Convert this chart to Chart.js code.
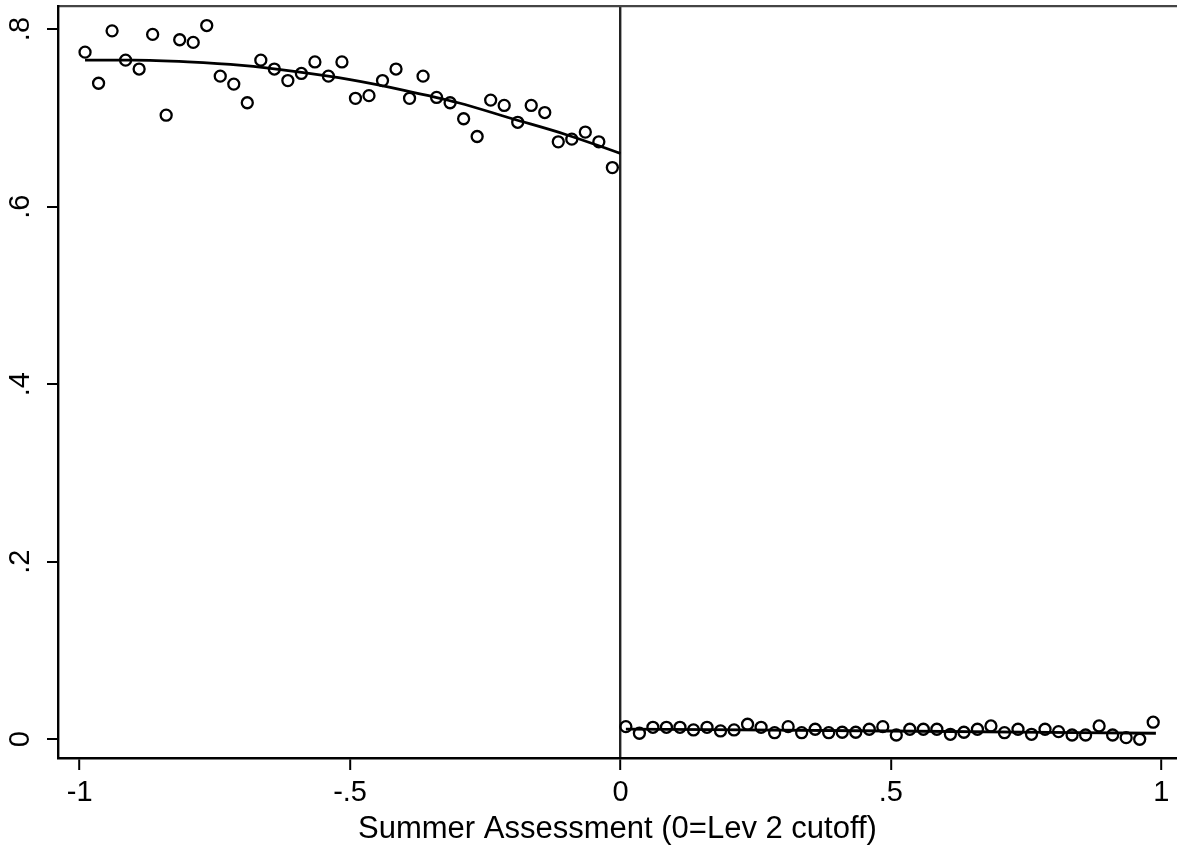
<!DOCTYPE html>
<html><head><meta charset="utf-8">
<script src="https://cdn.jsdelivr.net/npm/chart.js@4.4.0/dist/chart.umd.min.js"></script>
<style>html,body{margin:0;padding:0;background:#fff;overflow:hidden}#wrap{width:1177px;height:848px}</style>
</head><body><div id="wrap"><canvas id="c" width="1177" height="848"></canvas></div>
<script>
// Binned observations, left of cutoff
const leftX = [-0.99,-0.965,-0.94,-0.915,-0.89,-0.865,-0.84,-0.815,-0.79,-0.765,-0.74,-0.715,-0.69,-0.665,-0.64,-0.615,-0.59,-0.565,-0.54,-0.515,-0.49,-0.465,-0.44,-0.415,-0.39,-0.365,-0.34,-0.315,-0.29,-0.265,-0.24,-0.215,-0.19,-0.165,-0.14,-0.115,-0.09,-0.065,-0.04,-0.015];
const leftY = [0.774,0.739,0.798,0.765,0.755,0.794,0.703,0.788,0.785,0.804,0.747,0.738,0.717,0.765,0.755,0.742,0.750,0.763,0.747,0.763,0.722,0.725,0.742,0.755,0.722,0.747,0.723,0.717,0.699,0.679,0.720,0.714,0.695,0.714,0.706,0.673,0.676,0.684,0.673,0.644];
// Binned observations, right of cutoff
const rightX = [0.01,0.035,0.06,0.085,0.11,0.135,0.16,0.185,0.21,0.235,0.26,0.285,0.31,0.335,0.36,0.385,0.41,0.435,0.46,0.485,0.51,0.535,0.56,0.585,0.61,0.635,0.66,0.685,0.71,0.735,0.76,0.785,0.81,0.835,0.86,0.885,0.91,0.935,0.96,0.985];
const rightY = [0.0142,0.0068,0.0135,0.0135,0.0135,0.0105,0.0135,0.0094,0.0105,0.0169,0.0135,0.0074,0.0142,0.0074,0.0113,0.0074,0.0079,0.0079,0.0113,0.0142,0.0048,0.0113,0.0113,0.0113,0.0056,0.0079,0.0113,0.0150,0.0074,0.0113,0.0056,0.0113,0.0086,0.0048,0.0048,0.0150,0.0048,0.0018,0.0000,0.0192];
// Fitted curves
const leftFitX = [-0.99,-0.9,-0.8,-0.7,-0.6,-0.5,-0.4,-0.3,-0.2,-0.1,0];
const leftFitY = [0.765,0.765,0.763,0.759,0.752,0.743,0.731,0.717,0.699,0.681,0.660];
const rightFitX = [0.01,0.5,0.99];
const rightFitY = [0.0115,0.0093,0.0068];
// Ticks
const xTicks = [-1,-0.5,0,0.5,1];
const yTicks = [0,0.2,0.4,0.6,0.8];
const xTitle = 'Summer Assessment (0=Lev 2 cutoff)';

const zip = (xs, ys) => xs.map((x, i) => ({x: x, y: ys[i]}));
const fmt = v => String(v).replace('0.', '.');
const FONT = 'Liberation Sans, Arial, Helvetica, sans-serif';
const noPad = s => { s.paddingTop = 0; s.paddingBottom = 0; s.paddingLeft = 0; s.paddingRight = 0; };

const ptStyle = {type:'scatter', pointStyle:'circle', pointRadius:5.5, pointBorderWidth:2.3, borderColor:'#000', backgroundColor:'rgba(0,0,0,0)', pointBackgroundColor:'rgba(0,0,0,0)', pointBorderColor:'#000', showLine:false};
const lnStyle = {type:'line', borderColor:'#000', borderWidth:2.8, pointRadius:0, cubicInterpolationMode:'monotone', fill:false, showLine:true};

new Chart(document.getElementById('c'), {
  type: 'scatter',
  data: {datasets: [
    Object.assign({data: zip(leftX, leftY)}, ptStyle),
    Object.assign({data: zip(rightX, rightY)}, ptStyle),
    Object.assign({data: zip(leftFitX, leftFitY)}, lnStyle),
    Object.assign({data: zip(rightFitX, rightFitY)}, lnStyle)
  ]},
  options: {
    responsive: false, animation: false, events: [],
    layout: {autoPadding: false, padding: {top: 6, left: 0, right: 0, bottom: 0}},
    plugins: {legend: {display: false}, tooltip: {enabled: false}},
    scales: {
      x: {
        type: 'linear', position: 'bottom', min: -1.04, max: 1.029,
        afterBuildTicks: s => { s.ticks = xTicks.map(v => ({value: v})); },
        afterFit: s => { s.height = 90; noPad(s); },
        ticks: {callback: v => fmt(v), font: {family: FONT, size: 29}, color: '#000', padding: 6, maxRotation: 0, autoSkip: false},
        grid: {color: c => (c.tick && c.tick.value === 0) ? '#222' : 'rgba(0,0,0,0)', tickColor: '#000', tickLength: 12, lineWidth: 2.4, tickWidth: 2},
        border: {color: '#000', width: 2.4},
        title: {display: true, text: xTitle, font: {family: FONT, size: 31}, color: '#000', padding: {top: 0, bottom: 0}}
      },
      x2: {
        type: 'linear', position: 'top', min: -1.04, max: 1.029,
        afterFit: s => { s.height = 0; noPad(s); },
        ticks: {display: false},
        grid: {display: false, drawTicks: false},
        border: {color: '#444', width: 2.2}
      },
      y: {
        type: 'linear', position: 'left', min: -0.0211, max: 0.826,
        afterBuildTicks: s => { s.ticks = yTicks.map(v => ({value: v})); },
        afterFit: s => { s.width = 58; noPad(s); },
        ticks: {callback: v => fmt(v), font: {family: FONT, size: 29}, color: '#000', minRotation: 90, maxRotation: 90, crossAlign: 'center', padding: 14, autoSkip: false},
        grid: {color: 'rgba(0,0,0,0)', tickColor: '#000', tickLength: 11, lineWidth: 2, tickWidth: 2},
        border: {color: '#000', width: 2.4}
      }
    }
  }
});
</script></body></html>
